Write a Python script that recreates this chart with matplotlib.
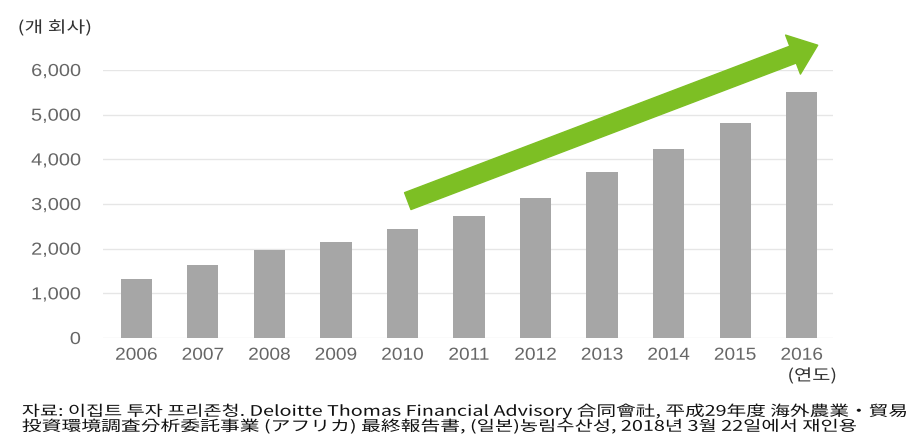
import matplotlib
matplotlib.use("Agg")
import matplotlib.pyplot as plt
from matplotlib.patheffects import AbstractPathEffect
from matplotlib.transforms import Affine2D

plt.rcParams['font.family'] = ['Liberation Sans', 'Noto Sans CJK KR', 'DejaVu Sans']

years = ["2006", "2007", "2008", "2009", "2010", "2011", "2012", "2013", "2014", "2015", "2016"]
companies = [1320, 1640, 1960, 2160, 2440, 2730, 3130, 3710, 4230, 4820, 5500]
yticks = [0, 1000, 2000, 3000, 4000, 5000, 6000]
ytick_labels = ["0", "1,000", "2,000", "3,000", "4,000", "5,000", "6,000"]
y_unit = "(개 회사)"
x_unit = "(연도)"
source_lines = [
    "자료: 이집트 투자 프리존청. Deloitte Thomas Financial Advisory 合同會社, 平成29年度 海外農業・貿易",
    "投資環境調査分析委託事業 (アフリカ) 最終報告書, (일본)농림수산성, 2018년 3월 22일에서 재인용",
]


class StretchX(AbstractPathEffect):
    """Horizontally stretch text glyphs about an anchor (left/center/right)."""

    def __init__(self, sx, align="left"):
        super().__init__()
        self.sx = sx
        self.align = align

    def draw_path(self, renderer, gc, tpath, affine, rgbFace=None):
        ext = tpath.get_extents(affine)
        if self.align == "left":
            x0 = ext.x0
        elif self.align == "right":
            x0 = ext.x1
        else:
            x0 = 0.5 * (ext.x0 + ext.x1)
        m = affine.get_matrix().copy()
        m[0, 0] *= self.sx
        m[0, 1] *= self.sx
        m[0, 2] = self.sx * m[0, 2] + (1 - self.sx) * x0
        renderer.draw_path(gc, tpath, Affine2D(m), rgbFace)


W, H = 910, 434
fig = plt.figure(figsize=(W / 100, H / 100), dpi=100)
ax = fig.add_axes([103 / W, 1 - 338 / H, 730 / W, 268 / H])

x = list(range(len(years)))
ax.bar(x, companies, width=0.47, color="#a6a6a6", zorder=2)
ax.set_xlim(-0.5, 10.47)
ax.set_ylim(0, 6000)
ax.set_yticks(yticks)
ax.set_yticklabels(ytick_labels)
ax.set_xticks(x)
ax.set_xticklabels(years)
ax.grid(axis="y", color="#e6e6e6", linewidth=1, zorder=0)
for s in ax.spines.values():
    s.set_visible(False)
ax.tick_params(axis="y", length=0, pad=16, labelsize=12.5, labelcolor="#666666")
ax.tick_params(axis="x", length=0, pad=7, labelsize=12.5, labelcolor="#666666")
for lab in ax.get_yticklabels():
    lab.set_path_effects([StretchX(1.15, "right")])
for lab in ax.get_xticklabels():
    lab.set_path_effects([StretchX(1.1, "center")])

# trend arrow
ax.annotate("", xy=(10.24, 6555), xytext=(4.08, 3065),
            arrowprops=dict(arrowstyle="simple,head_width=3.0,head_length=1.9,tail_width=1.3",
                            mutation_scale=10, color="#7dbf24", shrinkA=0, shrinkB=0),
            annotation_clip=False, zorder=5)

cjk = ['Noto Sans CJK KR', 'DejaVu Sans']
t_yunit = fig.text(18 / W, 1 - 28 / H, y_unit, fontsize=11.5, color="#333333", va="center", ha="left",
                   family=cjk)
t_xunit = fig.text(837 / W, 1 - 376 / H, x_unit, fontsize=11.5, color="#333333", va="center", ha="right",
                   family=cjk)
t_src1 = fig.text(22 / W, 1 - 411 / H, source_lines[0], fontsize=10.5, color="#111111", va="center",
                  ha="left", family=cjk)
t_src2 = fig.text(22 / W, 1 - 426 / H, source_lines[1], fontsize=10.5, color="#111111", va="center",
                  ha="left", family=cjk)

fig.canvas.draw()
renderer = fig.canvas.get_renderer()
for t, target, align in [(t_yunit, 75, "left"), (t_xunit, 50, "right"),
                         (t_src1, 888, "left"), (t_src2, 836, "left")]:
    w = t.get_window_extent(renderer).width
    t.set_path_effects([StretchX(target / w, align)])

fig.savefig("out.png", dpi=100)
